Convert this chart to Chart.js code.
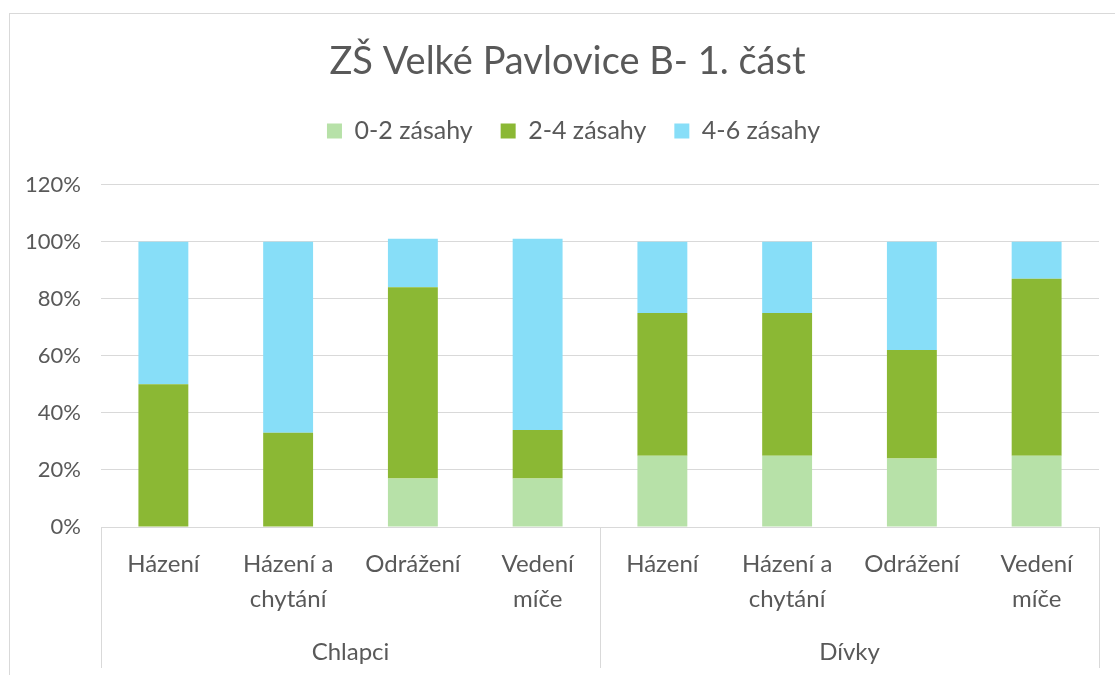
<!DOCTYPE html>
<html>
<head>
<meta charset="utf-8">
<script src="https://cdn.jsdelivr.net/npm/chart.js@4.4.1/dist/chart.umd.min.js"></script>
<style>
  html, body { margin: 0; padding: 0; background: #fff; overflow: hidden; }
  #wrap { position: relative; width: 1115px; height: 675px; }
  #frame { position: absolute; left: 9px; top: 13px; width: 1200px; height: 800px; border: 1px solid #d9d9d9; box-sizing: border-box; }
  canvas { position: absolute; left: 0; top: 0; }
</style>
</head>
<body>
<div id="wrap">
  <div id="frame"></div>
  <canvas id="c" width="1115" height="675"></canvas>
</div>
<script>
const titleText = 'ZŠ Velké Pavlovice B- 1. část';
const categories = [
  ['Házení'], ['Házení a', 'chytání'], ['Odrážení'], ['Vedení', 'míče'],
  ['Házení'], ['Házení a', 'chytání'], ['Odrážení'], ['Vedení', 'míče']
];
const groups = ['Chlapci', 'Dívky'];
const seriesNames = ['0-2 zásahy', '2-4 zásahy', '4-6 zásahy'];
const hits02 = [0, 0, 17, 17, 25, 25, 24, 25];
const hits24 = [50, 33, 67, 17, 50, 50, 38, 62];
const hits46 = [50, 67, 17, 67, 25, 25, 38, 13];
const yTicks = [0, 20, 40, 60, 80, 100, 120];

const FONT = 'Lato, "Open Sans", sans-serif';
const TXT = '#595959';
const GRID = '#d9d9d9';

const legendSpace = {
  id: 'legendSpace',
  beforeInit(chart) {
    const lg = chart.legend;
    if (lg && !lg._patched) {
      const fit = lg.fit;
      lg.fit = function () { fit.call(this); this.height += 31; };
      lg._patched = true;
    }
  },
  afterLayout(chart) {
    // centre title and legend on the whole chart frame, as in the original
    if (chart.titleBlock) { chart.titleBlock.left += 8; chart.titleBlock.right += 8; }
    if (chart.legend) { chart.legend.left += 14; chart.legend.right += 14; }
  }
};

const separators = {
  id: 'separators',
  afterDraw(chart) {
    const x = chart.scales.x, x2 = chart.scales.x2;
    const ctx = chart.ctx;
    const n = categories.length;
    const per = n / groups.length;
    const pts = [x.left];
    for (let g = 1; g < groups.length; g++) {
      pts.push((x.getPixelForValue(g * per - 1) + x.getPixelForValue(g * per)) / 2);
    }
    pts.push(x.right);
    ctx.save();
    ctx.strokeStyle = GRID;
    ctx.lineWidth = 1;
    pts.forEach(p => {
      const px = Math.round(p) + 0.5;
      ctx.beginPath();
      ctx.moveTo(px, chart.chartArea.bottom);
      ctx.lineTo(px, x2.bottom - 2);
      ctx.stroke();
    });
    ctx.restore();
  }
};

new Chart(document.getElementById('c'), {
  type: 'bar',
  data: {
    labels: categories,
    datasets: [
      { label: seriesNames[0], data: hits02, backgroundColor: '#b7e1a8' },
      { label: seriesNames[1], data: hits24, backgroundColor: '#8bb834' },
      { label: seriesNames[2], data: hits46, backgroundColor: '#87def8' }
    ]
  },
  options: {
    responsive: false,
    animation: false,
    layout: { padding: { left: 20, right: 16, top: 0, bottom: 5 } },
    datasets: { bar: { categoryPercentage: 1.0, barPercentage: 0.4 } },
    plugins: {
      title: {
        display: true, text: titleText, color: TXT,
        font: { family: FONT, size: 38, weight: 'normal' },
        padding: { top: 39, bottom: 6 }
      },
      legend: {
        display: true, position: 'top',
        labels: {
          color: TXT, font: { family: FONT, size: 25 },
          boxWidth: 15, boxHeight: 15, padding: 28
        }
      },
      tooltip: { enabled: false }
    },
    scales: {
      x: {
        stacked: true,
        grid: { display: false },
        border: { display: true, color: GRID, width: 1 },
        ticks: { color: TXT, font: { family: FONT, size: 24, lineHeight: 1.46 }, padding: 12, maxRotation: 0, autoSkip: false },
        afterFit(s) { s.height = 88; }
      },
      x2: {
        type: 'category',
        labels: groups,
        position: 'bottom',
        offset: true,
        grid: { display: false },
        border: { display: false },
        ticks: { color: TXT, font: { family: FONT, size: 24, lineHeight: 1.46 }, padding: 12, maxRotation: 0 },
        afterFit(s) { s.height = 55; }
      },
      y: {
        stacked: true,
        min: 0, max: 120,
        afterBuildTicks(s) { s.ticks = yTicks.map(v => ({ value: v })); },
        grid: { color: GRID, lineWidth: 1, drawTicks: false },
        border: { display: false },
        ticks: { color: TXT, font: { family: FONT, size: 22 }, padding: 20, callback: v => v + '%' },
        afterFit(s) { s.width = 81; }
      }
    }
  },
  plugins: [legendSpace, separators]
});
</script>
</body>
</html>
